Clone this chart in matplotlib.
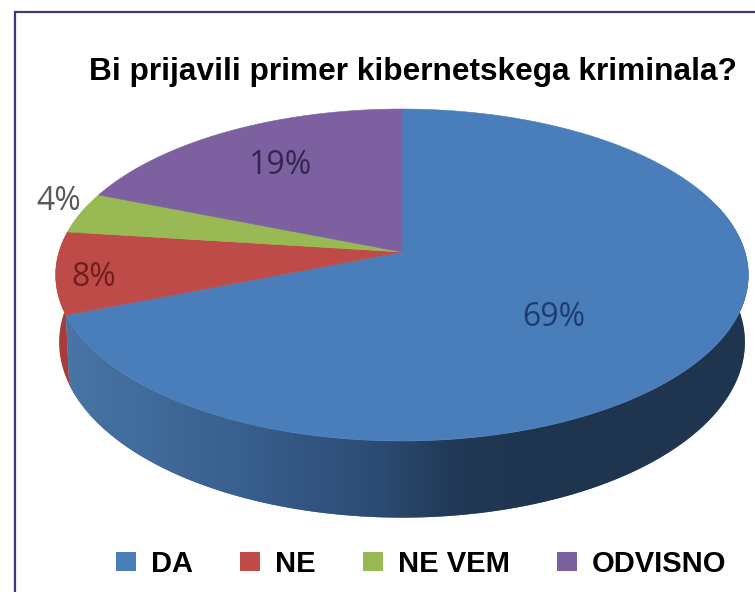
import matplotlib

matplotlib.use("Agg")
import matplotlib.pyplot as plt
import numpy as np
from matplotlib.colors import LinearSegmentedColormap
from matplotlib.patches import Patch

CATEGORIES = ["DA", "NE", "NE VEM", "ODVISNO"]
SHARES = [69, 8, 4, 19]
COLORS = ["#4a7ebb", "#be4b48", "#98b954", "#7d60a0"]
LABEL_COLORS = ["#1d3d6e", "#6e1f1d", "#595959", "#32264f"]
TITLE = "Bi prijavili primer kibernetskega kriminala?"

# pie geometry in pixels, k is the perspective foreshortening
CX, CY = 402.0, 252.0
RX, RY = 343.0, 162.8
K = 0.1386
DEPTH = 66.0
LOWER_SCALE = 0.99

LABEL_POS = [(554, 317), (94, 277), (59, 201), (280, 166)]
WALL_STOPS = [(0.0, "#4a77a8"), (0.06, "#44709f"), (0.245, "#3a6190"), (0.46, "#2c4b73"),
              (0.56, "#223a58"), (0.66, "#20354f"), (1.0, "#1f344e")]


def project(theta: np.ndarray, depth: float = 0.0, scale: float = 1.0) -> tuple[np.ndarray, np.ndarray]:
    # theta runs clockwise from 12 o'clock
    u, v = np.sin(theta), np.cos(theta)
    w = 1 + K * v
    return CX + scale * RX * u / w, CY - RY * v / w + depth / w


def arc(start: float, stop: float) -> np.ndarray:
    return np.linspace(start, stop, 200)


def main() -> None:
    fig = plt.figure(figsize=(7.55, 5.92), dpi=100, facecolor="white")
    ax = fig.add_axes([0, 0, 1, 1])

    edges = 2 * np.pi * np.concatenate([[0], np.cumsum(SHARES)]) / sum(SHARES)

    # side walls, only the part that faces the viewer
    wall_cmap = LinearSegmentedColormap.from_list("wall", WALL_STOPS)
    gradient = np.linspace(0, 1, 256).reshape(1, -1)
    visible = (np.pi / 2 - 0.3, 3 * np.pi / 2 + 0.3)
    for i, color in enumerate(COLORS):
        start, stop = max(edges[i], visible[0]), min(edges[i + 1], visible[1])
        if start >= stop:
            continue
        theta = arc(start, stop)
        x_top, y_top = project(theta)
        x_low, y_low = project(theta, DEPTH, LOWER_SCALE)
        xs = np.concatenate([x_top, x_low[::-1]])
        ys = np.concatenate([y_top, y_low[::-1]])
        if i == 0:
            poly = ax.fill(xs, ys, color=color, lw=0, zorder=1)[0]
            img = ax.imshow(gradient, extent=(60, 755, 592, 0), aspect="auto", cmap=wall_cmap, zorder=1.5)
            img.set_clip_path(poly)
        else:
            ax.fill(xs, ys, color="#a83c39", lw=0, zorder=1)

    # top face
    for i, color in enumerate(COLORS):
        x_arc, y_arc = project(arc(edges[i], edges[i + 1]))
        ax.fill(np.r_[CX, x_arc], np.r_[CY, y_arc], color=color, lw=0.4, ec=color, zorder=2)

    for value, pos, color in zip(SHARES, LABEL_POS, LABEL_COLORS):
        ax.text(pos[0], pos[1], f"{value}%", ha="center", va="center", color=color,
                fontsize=23, family="Open Sans", zorder=3)

    ax.text(413, 72, TITLE, ha="center", va="center", fontsize=22.8, fontweight="bold",
            family="Liberation Sans", color="black", zorder=3)

    handles = [Patch(facecolor=c, edgecolor="none", label=name) for name, c in zip(CATEGORIES, COLORS)]
    legend = ax.legend(handles=handles, ncol=4, frameon=False, loc="center",
                       bbox_to_anchor=(421 / 755, 1 - 564 / 592),
                       prop={"family": "Liberation Sans", "weight": "bold", "size": 21},
                       handlelength=0.7, handleheight=0.62, handletextpad=0.5, columnspacing=1.62)
    for text in legend.get_texts():
        text.set_color("black")

    # frame of the slide, it runs off the picture on the right and at the bottom
    ax.plot([15, 15, 755], [592, 12, 12], color="#3b3a7a", lw=1.6, solid_joinstyle="miter", zorder=4)

    ax.set_xlim(0, 755)
    ax.set_ylim(592, 0)
    ax.axis("off")
    fig.savefig("out.png", dpi=100)


if __name__ == "__main__":
    main()
